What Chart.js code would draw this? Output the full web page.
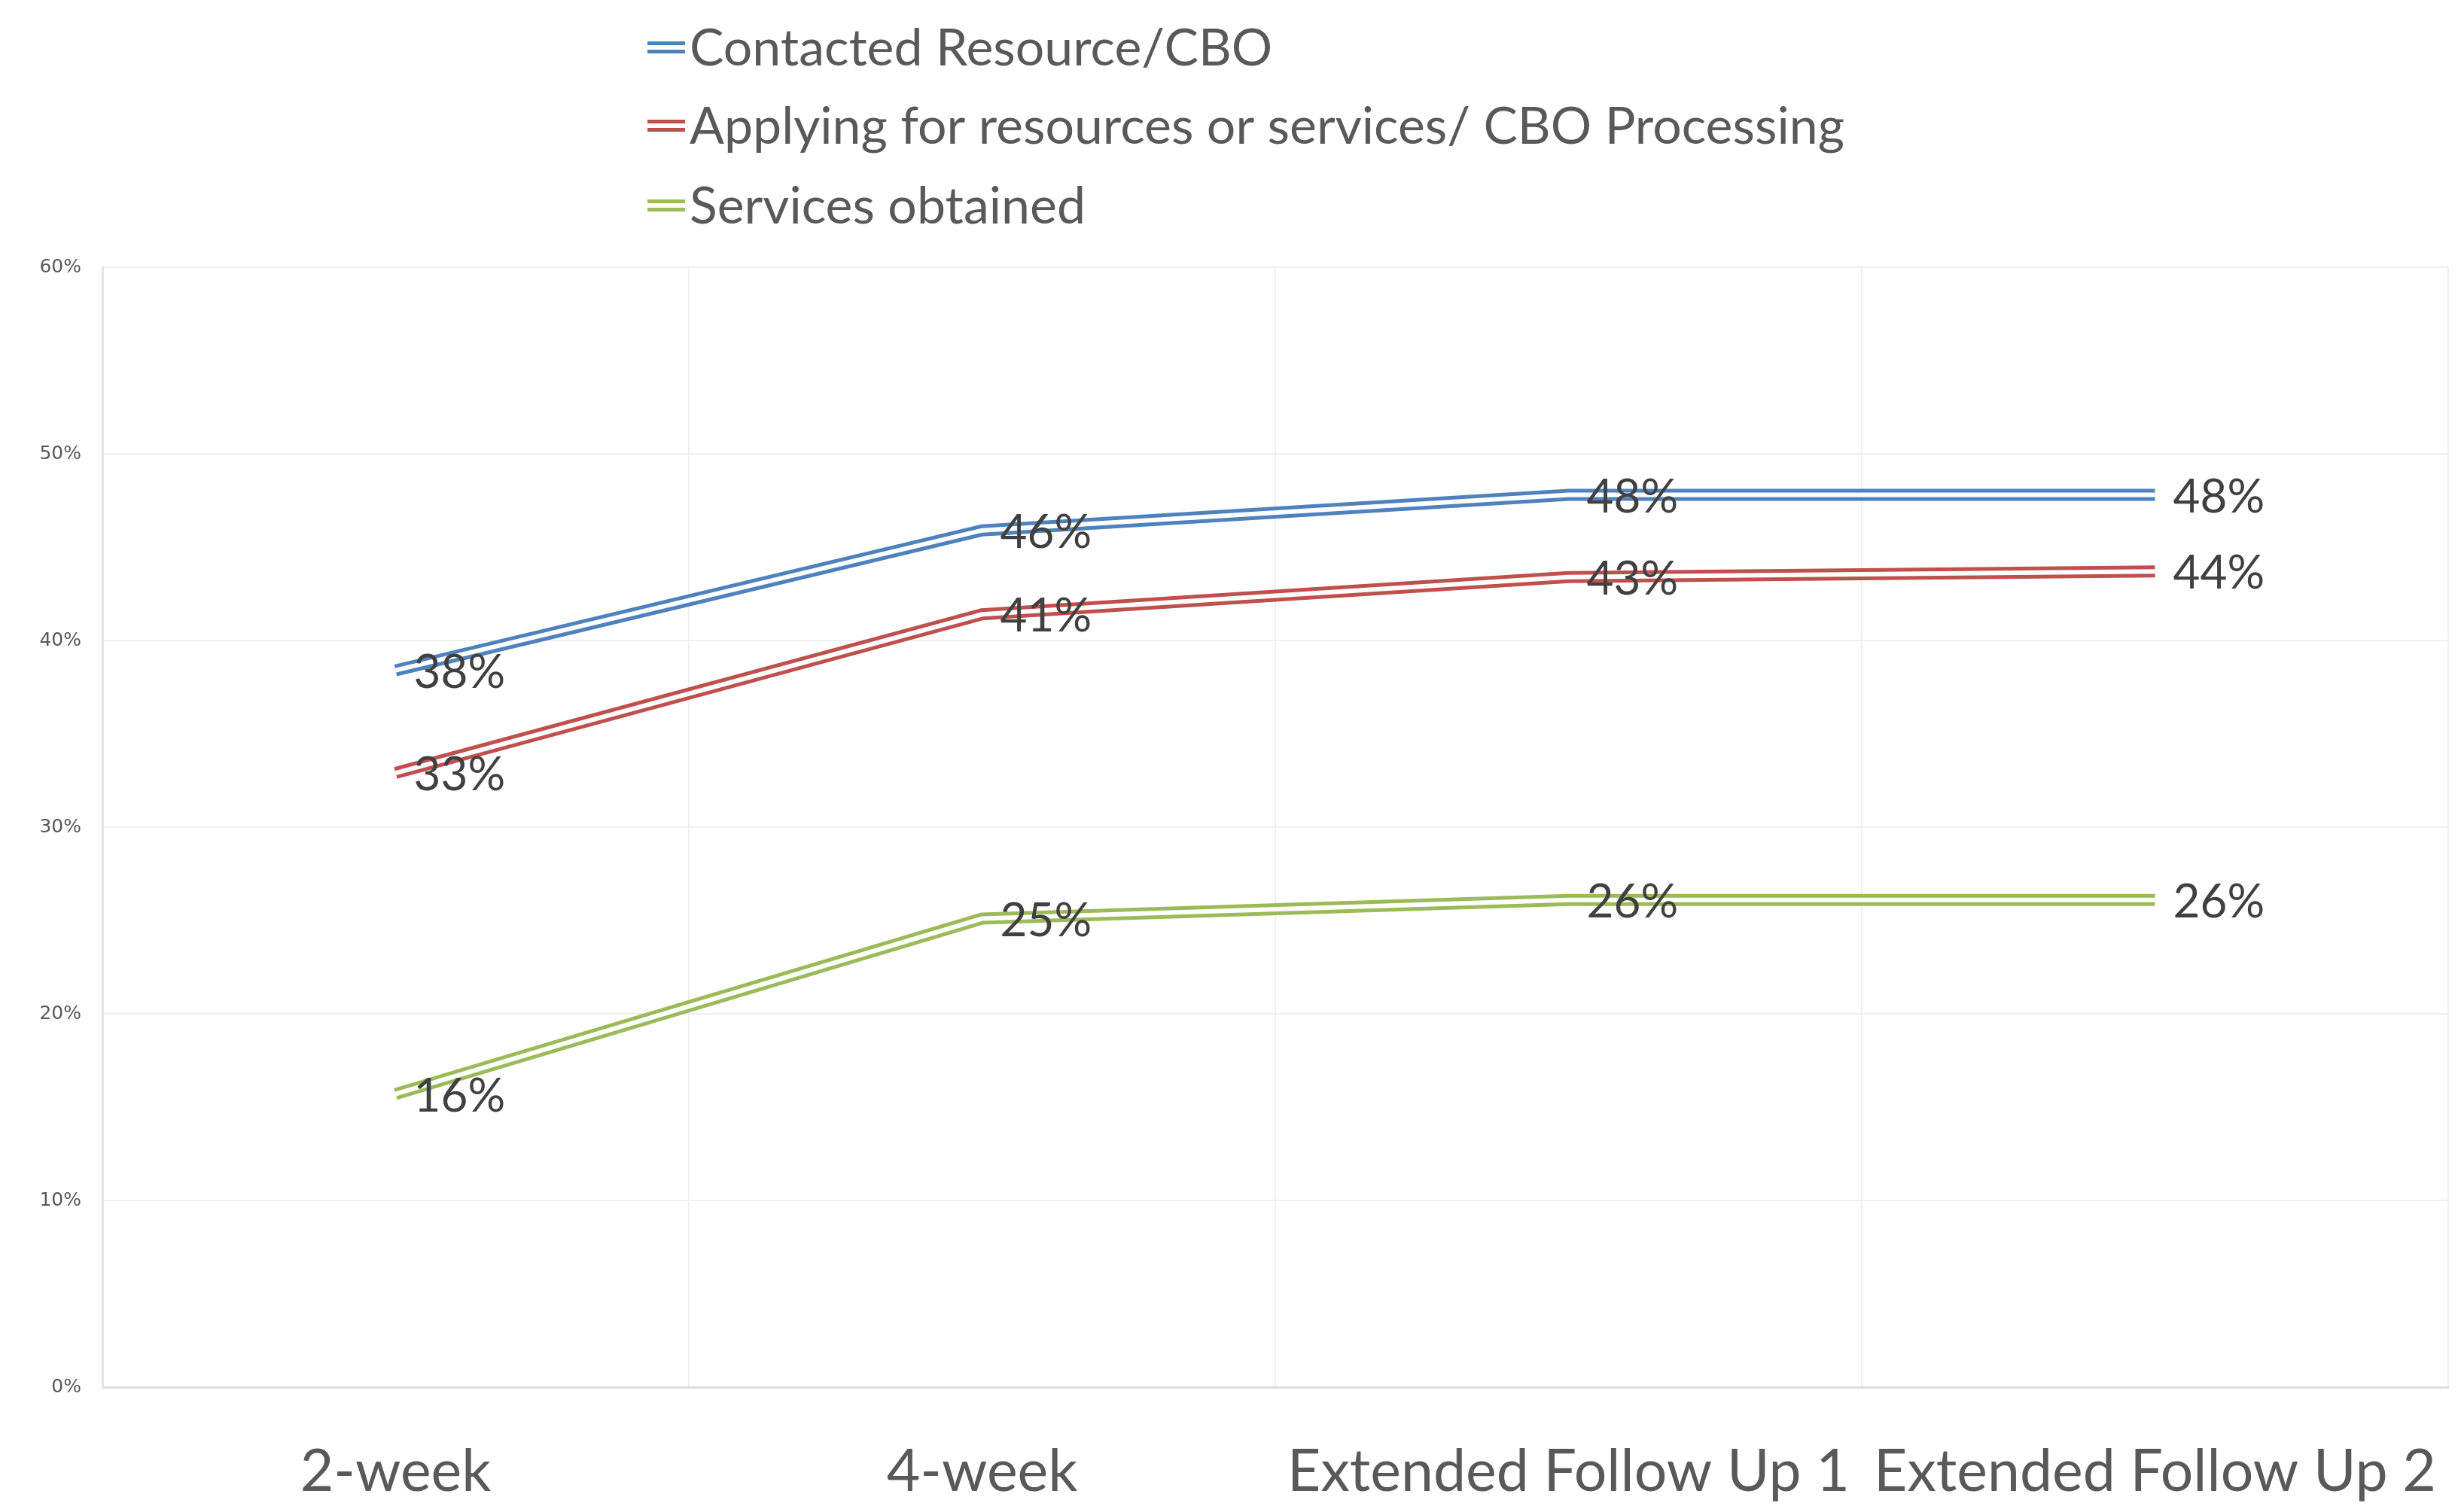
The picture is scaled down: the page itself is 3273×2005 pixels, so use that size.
<!DOCTYPE html>
<html>
<head>
<meta charset="utf-8">
<title>Resource follow-up</title>
<script src="https://cdn.jsdelivr.net/npm/chart.js@4.4.1/dist/chart.umd.min.js"></script>
<style>
    html, body { margin: 0; padding: 0; background: #fff; }
    #wrap { width: 3273px; height: 2005px; }
</style>
</head>
<body>
<div id="wrap"><canvas id="follow-up-chart" width="3273" height="2005"></canvas></div>
<script>
// Data (share of participants)
const categories = ['2-week', '4-week', 'Extended Follow Up 1', 'Extended Follow Up 2'];
const contacted = [0.384, 0.459, 0.478, 0.478];
const applying = [0.329, 0.414, 0.434, 0.437];
const obtained = [0.157, 0.251, 0.261, 0.261];

const seriesNames = ['Contacted Resource/CBO', 'Applying for resources or services/ CBO Processing', 'Services obtained'];
const seriesValues = [contacted, applying, obtained];
const seriesColors = ['#4F81BD', '#C0504D', '#9BBB59'];

const followUpChart = document.getElementById('follow-up-chart');
const textGrey = '#595959';

// Excel style "double" line: a wide coloured stroke with a thin white one on top
const datasets = [];
seriesValues.forEach((values, i) => {
    datasets.push({
        label: seriesNames[i],
        data: values,
        borderColor: seriesColors[i],
        borderWidth: 16,
        pointRadius: 0,
        tension: 0,
        order: 2 * i + 1
    });
    datasets.push({
        label: seriesNames[i] + ' inner',
        data: values,
        borderColor: '#ffffff',
        borderWidth: 6,
        pointRadius: 0,
        tension: 0,
        order: 2 * i
    });
});

function pct(v) {
    return Math.round(v * 100) + '%';
}

// value labels to the right of each point
const pointLabels = {
    id: 'pointLabels',
    afterDatasetsDraw(chart) {
        const ctx = chart.ctx;
        ctx.save();
        ctx.font = '62px Lato';
        ctx.fillStyle = '#404040';
        ctx.textAlign = 'left';
        ctx.textBaseline = 'middle';
        seriesValues.forEach((values, i) => {
            const meta = chart.getDatasetMeta(2 * i);
            meta.data.forEach((pt, j) => {
                ctx.fillText(pct(values[j]), pt.x + 24, pt.y + 3);
            });
        });
        ctx.restore();
    }
};

// stacked legend above the plot
const stackedLegend = {
    id: 'stackedLegend',
    afterDraw(chart) {
        const ctx = chart.ctx;
        const left = 860;
        const rows = [63, 167, 273];
        ctx.save();
        ctx.font = '68px Lato';
        ctx.textAlign = 'left';
        ctx.textBaseline = 'middle';
        seriesNames.forEach((name, i) => {
            const y = rows[i];
            ctx.lineWidth = 16;
            ctx.strokeStyle = seriesColors[i];
            ctx.beginPath();
            ctx.moveTo(left, y);
            ctx.lineTo(left + 50, y);
            ctx.stroke();
            ctx.lineWidth = 6;
            ctx.strokeStyle = '#ffffff';
            ctx.beginPath();
            ctx.moveTo(left, y);
            ctx.lineTo(left + 50, y);
            ctx.stroke();
            ctx.fillStyle = textGrey;
            ctx.fillText(name, left + 56, y + 2);
        });
        ctx.restore();
    }
};

const newFollowUpChart = new Chart(followUpChart, {
    type: 'line',
    data: {
        labels: categories,
        datasets: datasets
    },
    options: {
        responsive: false,
        animation: false,
        devicePixelRatio: 1,
        layout: {
            padding: { top: 355, right: 21, bottom: 0, left: 0 }
        },
        plugins: {
            legend: { display: false },
            tooltip: { enabled: false }
        },
        scales: {
            x: {
                offset: true,
                grid: {
                    offset: true,
                    color: '#EFEFEF',
                    lineWidth: 2,
                    drawTicks: false
                },
                border: { color: '#DDDDDD', width: 3 },
                ticks: {
                    padding: 67,
                    color: textGrey,
                    font: { family: 'Lato', size: 77 },
                    maxRotation: 0,
                    autoSkip: false
                },
                afterFit(scale) {
                    scale.height = 162;
                    scale.paddingLeft = 0;
                    scale.paddingRight = 0;
                }
            },
            y: {
                min: 0,
                max: 0.6,
                grid: {
                    color: '#EFEFEF',
                    lineWidth: 2,
                    drawTicks: false
                },
                border: { color: '#E4E4E4', width: 3 },
                ticks: {
                    stepSize: 0.1,
                    padding: 28,
                    color: textGrey,
                    font: { family: 'DejaVu Sans', size: 25 },
                    callback: value => pct(value)
                },
                afterFit(scale) {
                    scale.width = 136;
                }
            }
        }
    },
    plugins: [pointLabels, stackedLegend]
});
</script>
</body>
</html>
